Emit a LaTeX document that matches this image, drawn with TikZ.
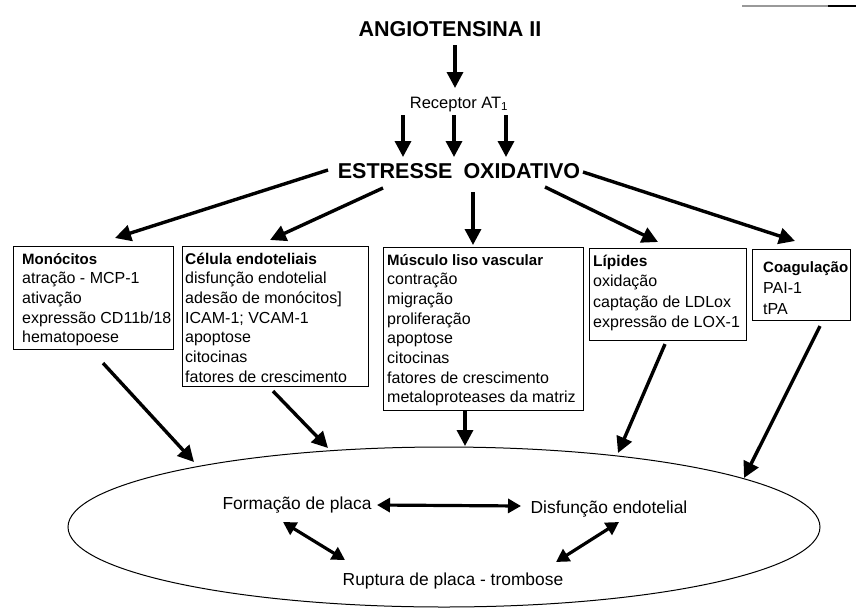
\documentclass[tikz,border=0pt]{standalone}
\usepackage{fontspec}
\setmainfont{Liberation Sans}
\usetikzlibrary{arrows.meta,calc,shapes.geometric}
\begin{document}
\begin{tikzpicture}[x=1pt,y=-1pt,
  arr/.style={line width=3.4pt, -{Triangle[length=16pt,width=16pt]}},
  darr/.style={line width=3.2pt, {Triangle[length=13pt,width=14pt]}-{Triangle[length=13pt,width=14pt]}},
  box/.style={draw, line width=1.1pt, rectangle, inner sep=0pt, anchor=north west},
  txt/.style={inner sep=0pt, anchor=base west, font=\fontsize{16}{19.7}\selectfont},
  ttl/.style={inner sep=0pt, anchor=base, font=\fontsize{21.5}{24}\selectfont\bfseries},
  lab/.style={inner sep=0pt, anchor=base, font=\fontsize{17.4}{20}\selectfont},
]
\useasboundingbox (0,0) rectangle (856,608);

% scan artefact line at top right
\draw[line width=1.2pt, black!40] (742,6) -- (828,6);
\draw[line width=1.5pt] (828,6) -- (856,6);

% titles
\node[ttl] (ang) at (450,36) {ANGIOTENSINA II};
\node[inner sep=0pt, anchor=base, font=\fontsize{16.5}{18}\selectfont] (rec) at (459,108) {Receptor AT\textsubscript{1}};
\node[ttl] (est) at (459,178) {ESTRESSE\hspace{5pt} OXIDATIVO};

% boxes
\node[box, minimum width=160pt, minimum height=103pt] (mono) at (13,246) {};
\node[box, minimum width=186pt, minimum height=140pt] (cel) at (182,246) {};
\node[box, minimum width=200pt, minimum height=163pt] (mus) at (383,247) {};
\node[box, minimum width=157pt, minimum height=92pt] (lip) at (589,248) {};
\node[box, minimum width=98pt, minimum height=71pt] (coa) at (752,249) {};

% box texts
\node[txt] (monoT) at (22,264) {\begin{tabular}[t]{@{}l@{}}{\fontsize{15}{19.7}\selectfont\bfseries Monócitos}\\ atração - MCP-1\\ ativação\\ expressão CD11b/18\\ hematopoese\end{tabular}};
\node[txt] (celT) at (185,264) {\begin{tabular}[t]{@{}l@{}}{\fontsize{15.5}{19.7}\selectfont\bfseries Célula endoteliais}\\ disfunção endotelial\\ adesão de monócitos]\\ ICAM-1; VCAM-1\\ apoptose\\ citocinas\\ fatores de crescimento\end{tabular}};
\node[txt] (musT) at (387,265) {\begin{tabular}[t]{@{}l@{}}{\fontsize{15}{19.7}\selectfont\bfseries Músculo liso vascular}\\ contração\\ migração\\ proliferação\\ apoptose\\ citocinas\\ fatores de crescimento\\ metaloproteases da matriz\end{tabular}};
\node[txt, font=\fontsize{16}{20.5}\selectfont] (lipT) at (593,266) {\begin{tabular}[t]{@{}l@{}}{\fontsize{15.5}{20.5}\selectfont\bfseries Lípides}\\ oxidação\\ captação de LDLox\\ expressão de LOX-1\end{tabular}};
\node[txt, font=\fontsize{16}{21}\selectfont] (coaT) at (763,272) {\begin{tabular}[t]{@{}l@{}}{\fontsize{15}{21}\selectfont\bfseries Coagulação}\\ PAI-1\\ tPA\end{tabular}};

% ellipse
\node[draw, ellipse, line width=1pt, minimum width=752pt, minimum height=160pt, inner sep=0pt] (ell) at (444,527) {};
\node[lab] (form) at (297,509) {Formação de placa};
\node[lab] (dis) at (609,513) {Disfunção endotelial};
\node[lab] (rup) at (453,585) {Ruptura de placa - trombose};

% top arrows
\draw[arr] ($(ang.base)+(5,9)$) -- ($(rec.base)+(-4,-20)$);
\draw[arr] ($(rec.base)+(-56,7)$) -- ($(est.base)+(-56,-21)$);
\draw[arr] ($(rec.base)+(-5,7)$) -- ($(est.base)+(-5,-21)$);
\draw[arr] ($(rec.base)+(47,7)$) -- ($(est.base)+(47,-21)$);

% arrows to boxes
\draw[arr] ($(est.base)+(-131,-8)$) -- ($(mono.north west)+(102,-8)$);
\draw[arr] ($(est.base)+(-76,10)$) -- ($(cel.north west)+(88,-6)$);
\draw[arr] ($(est.base)+(14,14)$) -- ($(mus.north west)+(90,-2)$);
\draw[arr] ($(est.base)+(86,9)$) -- ($(lip.north west)+(69,-6)$);
\draw[arr] ($(est.base)+(124,-6)$) -- ($(coa.north west)+(43,-8)$);

% arrows to ellipse
\draw[arr] ($(mono.south west)+(90,13)$) -- ($(ell.center)+(-250,-65)$);
\draw[arr] ($(cel.south west)+(91,4)$) -- ($(ell.center)+(-116,-79)$);
\draw[arr] ($(mus.south west)+(82,0)$) -- ($(ell.center)+(21,-81)$);
\draw[arr] ($(lip.south west)+(76,3)$) -- ($(ell.center)+(174,-74)$);
\draw[arr] ($(coa.south west)+(68,5)$) -- ($(ell.center)+(300,-49)$);

% double arrows
\draw[darr] ($(form.base)+(80,-4)$) -- ($(dis.base)+(-88,-7)$);
\draw[darr] ($(form.base)+(-14,13)$) -- ($(rup.base)+(-108,-25)$);
\draw[darr] ($(dis.base)+(10,9)$) -- ($(rup.base)+(103,-23)$);
\end{tikzpicture}
\end{document}
